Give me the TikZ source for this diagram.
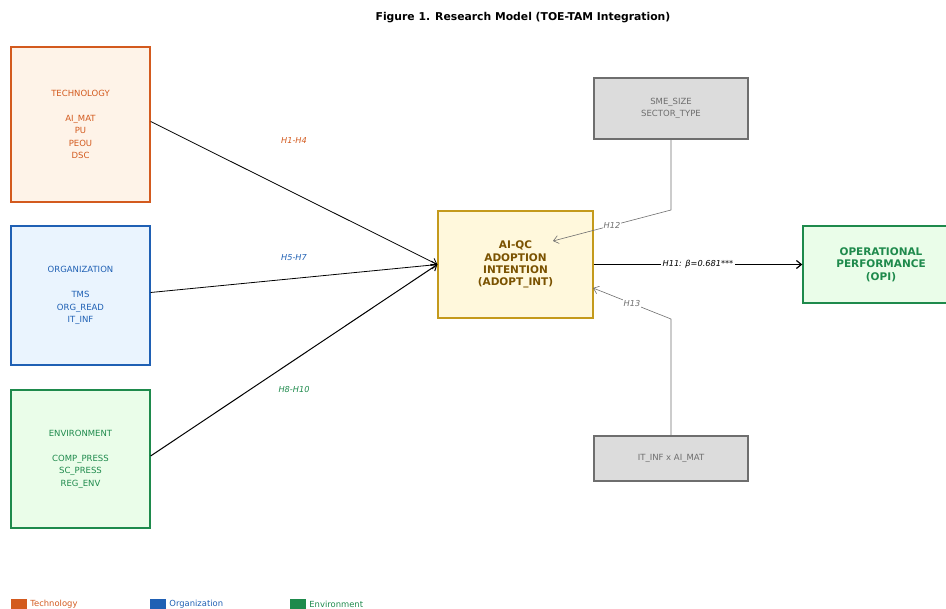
\documentclass[tikz,border=0pt]{standalone}
\usepackage{fontspec}
\setmainfont{DejaVu Sans}
\usetikzlibrary{arrows.meta,positioning}
\definecolor{techc}{HTML}{D35A1E}
\definecolor{techf}{HTML}{FEF3E8}
\definecolor{orgc}{HTML}{1F60B4}
\definecolor{orgf}{HTML}{EAF4FE}
\definecolor{envc}{HTML}{1E8A4C}
\definecolor{envf}{HTML}{EAFDE9}
\definecolor{adoptc}{HTML}{C49A1C}
\definecolor{adoptf}{HTML}{FFF8DC}
\definecolor{adoptt}{HTML}{7A5200}
\definecolor{ctrlc}{HTML}{6E6E6E}
\definecolor{ctrlf}{HTML}{DCDCDC}
\tikzset{
    box/.style ={draw, line width=1.3pt, align=center, inner sep=0pt},
    toe/.style ={box, minimum width=139pt, font=\fontsize{8.5}{12.5}\selectfont},
    ctrl/.style ={box, draw=ctrlc, fill=ctrlf, text=ctrlc, minimum width=154pt, font=\fontsize{8.5}{12.5}\selectfont},
    core/.style ={box, minimum width=155pt, font=\fontsize{10.5}{12.3}\selectfont\bfseries},
    hyp/.style = {font=\fontsize{8.2}{9}\selectfont\itshape},
    link/.style = {-{Straight Barb[length=5pt,width=8pt]}, line width=0.8pt},
    modlink/.style = {link, draw=ctrlc, line width=0.6pt},
    key/.style = {minimum width=16pt, minimum height=10pt, inner sep=0pt},
    keytext/.style = {font=\fontsize{8.4}{9}\selectfont, inner sep=0pt}
}

\begin{document}
\begin{tikzpicture}[x=1pt,y=-1pt]
    \useasboundingbox (0,0) rectangle (946,609);
    \node[font=\fontsize{10.8}{12}\selectfont\bfseries] (title) at (523,18) {Figure 1. Research Model (TOE-TAM Integration)};

    %% TOE blocks
    \node[toe, draw=techc, fill=techf, text=techc, minimum height=155pt] (tech) at (80.5,124.5)
        {TECHNOLOGY\\[12.5pt]AI\_MAT\\PU\\PEOU\\DSC};
    \node[toe, draw=orgc, fill=orgf, text=orgc, minimum height=139pt] (org) at (80.5,295.5)
        {ORGANIZATION\\[12.5pt]TMS\\ORG\_READ\\IT\_INF};
    \node[toe, draw=envc, fill=envf, text=envc, minimum height=138pt] (env) at (80.5,459)
        {ENVIRONMENT\\[12.5pt]COMP\_PRESS\\SC\_PRESS\\REG\_ENV};

    %% core constructs
    \node[core, draw=adoptc, fill=adoptf, text=adoptt, minimum height=107pt] (adopt) at (515.5,264.5)
        {AI-QC\\ADOPTION\\INTENTION\\(ADOPT\_INT)};
    \node[core, draw=envc, fill=envf, text=envc, minimum width=156pt, minimum height=77pt] (opi) at (881,264.5)
        {OPERATIONAL\\PERFORMANCE\\(OPI)};

    %% controls and moderator
    \node[ctrl, minimum height=61pt] (size) at (671,108.5) {SME\_SIZE\\SECTOR\_TYPE};
    \node[ctrl, minimum height=45pt] (infmat) at (671,458.5) {IT\_INF x AI\_MAT};

    % Directed edges
    \draw[link] ([yshift=3pt]tech.east) -- (adopt.west);
    \draw[link] ([yshift=3pt]org.east) -- (adopt.west);
    \draw[link, line width=1pt] ([yshift=3pt]env.east) -- (adopt.west);
    \node[hyp, text=techc] (h1) at (294,141) {H1-H4};
    \node[hyp, text=orgc] (h5) at (294,258) {H5-H7};
    \node[hyp, text=envc] (h8) at (294,390) {H8-H10};

    \draw[link, line width=1.2pt] (adopt.east) -- node[hyp, fill=white, inner sep=2pt] {H11: β=0.681***} (opi.west);

    \coordinate (k12) at (671,210);
    \coordinate (e12) at (553,241);
    \coordinate (k13) at (671,319);
    \coordinate (e13) at (593,288);
    \draw[modlink] (size.south) -- (k12) -- node[pos=0.5, hyp, text=ctrlc, fill=white, inner sep=1pt] {H12} (e12);
    \draw[modlink] (infmat.north) -- (k13) -- node[pos=0.5, hyp, text=ctrlc, fill=white, inner sep=1pt] {H13} (e13);

    %% legend
    \node[key, fill=techc] (ktech) at (19,604) {};
    \node[right=3pt of ktech, text=techc, keytext] (ltech) {Technology};
    \node[key, fill=orgc] (korg) at (158,604) {};
    \node[right=3pt of korg, text=orgc, keytext] (lorg) {Organization};
    \node[key, fill=envc] (kenv) at (298,604) {};
    \node[right=3pt of kenv, text=envc, keytext] (lenv) {Environment};
\end{tikzpicture}
\end{document}
